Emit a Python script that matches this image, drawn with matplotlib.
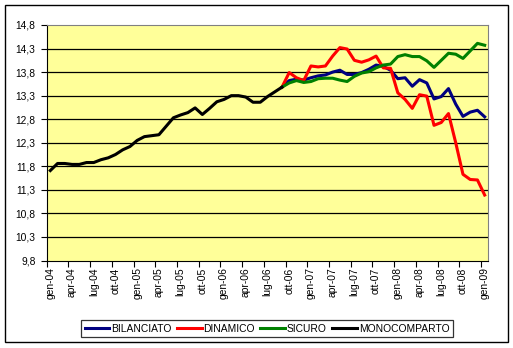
import numpy as np
import matplotlib
matplotlib.use('Agg')
import matplotlib.pyplot as plt
from matplotlib.patches import Rectangle

plt.rcParams['font.family'] = ['Liberation Sans', 'DejaVu Sans']

# monthly categories gen-04 .. gen-09
mesi = ['gen', 'feb', 'mar', 'apr', 'mag', 'giu', 'lug', 'ago', 'set', 'ott', 'nov', 'dic']
categorie = ['%s-%02d' % (mesi[i % 12], 4 + i // 12) for i in range(61)]

# monocomparto: gen-04 .. set-06
monocomparto = [11.71, 11.86, 11.86, 11.84, 11.84, 11.88, 11.88, 11.94, 11.98, 12.05,
                12.15, 12.22, 12.35, 12.43, 12.45, 12.47, 12.65, 12.83, 12.89, 12.94,
                13.04, 12.90, 13.03, 13.17, 13.22, 13.30, 13.30, 13.27, 13.16, 13.16,
                13.28, 13.38, 13.48]

# comparti: set-06 .. gen-09
bilanciato = [13.48, 13.62, 13.65, 13.63, 13.68, 13.72, 13.74, 13.80, 13.84, 13.75,
              13.75, 13.79, 13.86, 13.95, 13.92, 13.84, 13.66, 13.68, 13.50, 13.64,
              13.57, 13.23, 13.28, 13.45, 13.12, 12.86, 12.95, 12.99, 12.85]
dinamico = [13.48, 13.79, 13.68, 13.62, 13.93, 13.91, 13.93, 14.14, 14.32, 14.29,
            14.05, 14.01, 14.06, 14.14, 13.89, 13.88, 13.36, 13.22, 13.03, 13.32,
            13.29, 12.67, 12.73, 12.92, 12.30, 11.63, 11.52, 11.51, 11.19]
sicuro = [13.48, 13.57, 13.62, 13.58, 13.60, 13.66, 13.67, 13.67, 13.63, 13.60,
          13.71, 13.78, 13.81, 13.89, 13.95, 13.97, 14.13, 14.17, 14.13, 14.13,
          14.04, 13.90, 14.05, 14.20, 14.18, 14.09, 14.25, 14.41, 14.37]

x_mono = np.arange(len(monocomparto)) + 0.5
x_comp = np.arange(32, 32 + len(bilanciato)) + 0.5

fig = plt.figure(figsize=(5.13, 3.48), dpi=100)
ax = fig.add_axes([46.7 / 513, 1 - 260.5 / 348, 441.6 / 513, 235.5 / 348])
ax.set_facecolor('#FFFF99')

lw = 2.2
ax.plot(x_comp, bilanciato, color='#000080', lw=lw, label='BILANCIATO')
ax.plot(x_comp, dinamico, color='#FF0000', lw=lw, label='DINAMICO')
ax.plot(x_comp, sicuro, color='#008000', lw=lw, label='SICURO')
ax.plot(x_mono, monocomparto, color='black', lw=lw, label='MONOCOMPARTO')

yt = np.arange(9.8, 14.81, 0.5)
ax.set_ylim(9.8, 14.8)
ax.set_yticks(yt)
ax.set_yticklabels([('%.1f' % v).replace('.', ',') for v in yt], fontsize=7.4)
for v in yt[1:-1]:
    ax.axhline(v, color='black', lw=0.9, zorder=1)

ax.set_xlim(0, 61)
ax.set_xticks(np.arange(0, 61, 3))
ax.set_xticklabels([])
ax.set_xticks(np.arange(0, 61, 3) + 0.5, minor=True)
ax.set_xticklabels(categorie[::3], minor=True, rotation=90, fontsize=7.4)
ax.tick_params(axis='x', which='major', length=4, width=0.8, direction='out')
ax.tick_params(axis='x', which='minor', length=0, pad=5)
ax.tick_params(axis='y', length=4, width=0.8, pad=4)

for s in ['top', 'right']:
    ax.spines[s].set_color('#808080')
for s in ['left', 'bottom']:
    ax.spines[s].set_color('black')

fig.patches.append(Rectangle((5 / 513, 1 - 342 / 348), 503 / 513, 337 / 348,
                             transform=fig.transFigure, fill=False,
                             edgecolor='black', lw=1))

h, l = ax.get_legend_handles_labels()
leg = fig.legend(h, l, loc='center', bbox_to_anchor=(267 / 513, 1 - 328.8 / 348),
                 ncol=4, fontsize=7.4, frameon=True, fancybox=False,
                 handlelength=2.4, handletextpad=0.2, columnspacing=0.5,
                 borderpad=0.35, borderaxespad=0)
leg.get_frame().set_edgecolor('black')
leg.get_frame().set_linewidth(0.9)

fig.savefig('out.png', dpi=100)
